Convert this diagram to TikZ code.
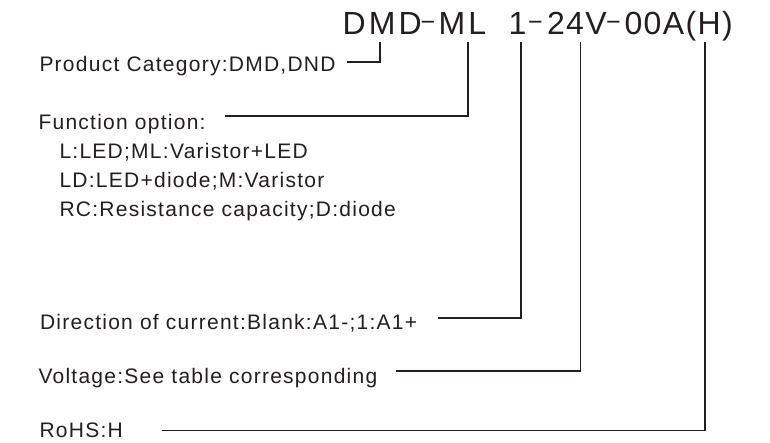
\documentclass[tikz,border=0pt]{standalone}
\usepackage{fontspec}
\setmainfont{Liberation Sans}
\newfontfamily\lblfont[LetterSpace=6]{Liberation Sans}
\newfontfamily\ttlfont[LetterSpace=10]{Liberation Sans}
\newfontfamily\ttlfontn[LetterSpace=4.3]{Liberation Sans}
\definecolor{ink}{HTML}{231F20}
\begin{document}
\begin{tikzpicture}[x=1pt,y=-1pt,
  lbl/.style={anchor=base west,inner sep=0pt,outer sep=0pt,font=\lblfont\fontsize{21}{25}\selectfont,text=ink},
  ttl/.style={anchor=base west,inner sep=0pt,outer sep=0pt,font=\ttlfont\fontsize{32}{36}\selectfont,text=ink},
  ttln/.style={ttl,font=\ttlfontn\fontsize{32}{36}\selectfont},
  tdash/.style={anchor=base,inner sep=0pt,outer sep=0pt,font=\fontsize{25}{25}\selectfont,text=ink},
  conn/.style={draw=ink,line width=1.2pt,line cap=rect}]
\useasboundingbox[fill=white] (0,0) rectangle (770,442);

% title
\node[ttl] (tA) at (342.5,34.5) {DMD};
\node[tdash] (d1) at (428,30.5) {−};
\node[ttl] (tB) at (438.5,34.5) {ML};
\node[ttl] (tC) at (508.5,34.5) {1};
\node[tdash] (d2) at (535.5,30.5) {−};
\node[ttln] (tD) at (547,34.5) {24V};
\node[tdash] (d3) at (613.5,30.5) {−};
\node[ttln] (tE) at (624.6,34.5) {00A(H)};

% labels
\node[lbl] (cat) at (39.5,71) {Product Category:DMD,DND};
\node[lbl] (func) at (38.5,129) {Function option:};
\node[lbl] (f1) at (59.5,158) {L:LED;ML:Varistor+LED};
\node[lbl] (f2) at (59.5,187) {LD:LED+diode;M:Varistor};
\node[lbl] (f3) at (59.5,216) {RC:Resistance capacity;D:diode};
\node[lbl] (dir) at (40,329) {Direction of current:Blank:A1-;1:A1+};
\node[lbl] (volt) at (38.5,383) {Voltage:See table corresponding};
\node[lbl] (rohs) at (39.5,437) {RoHS:H};

% connector end points under the title
\coordinate (tCat) at (380,43);
\coordinate (tFunc) at (468,43);
\coordinate (tDir) at (521,43);
\coordinate (tVolt) at (580.5,43);
\coordinate (tRohs) at (705,43);

% connector end points beside the labels
\coordinate (cCat) at (348,62);
\coordinate (cFunc) at (226,116);
\coordinate (cDir) at (439,318);
\coordinate (cVolt) at (397,371);
\coordinate (cRohs) at (163,430.5);

\draw[conn] (tCat) |- (cCat);
\draw[conn] (tFunc) |- (cFunc);
\draw[conn] (tDir) |- (cDir);
\draw[conn] (tVolt) |- (cVolt);
\draw[conn] (tRohs) |- (cRohs);
\end{tikzpicture}
\end{document}
